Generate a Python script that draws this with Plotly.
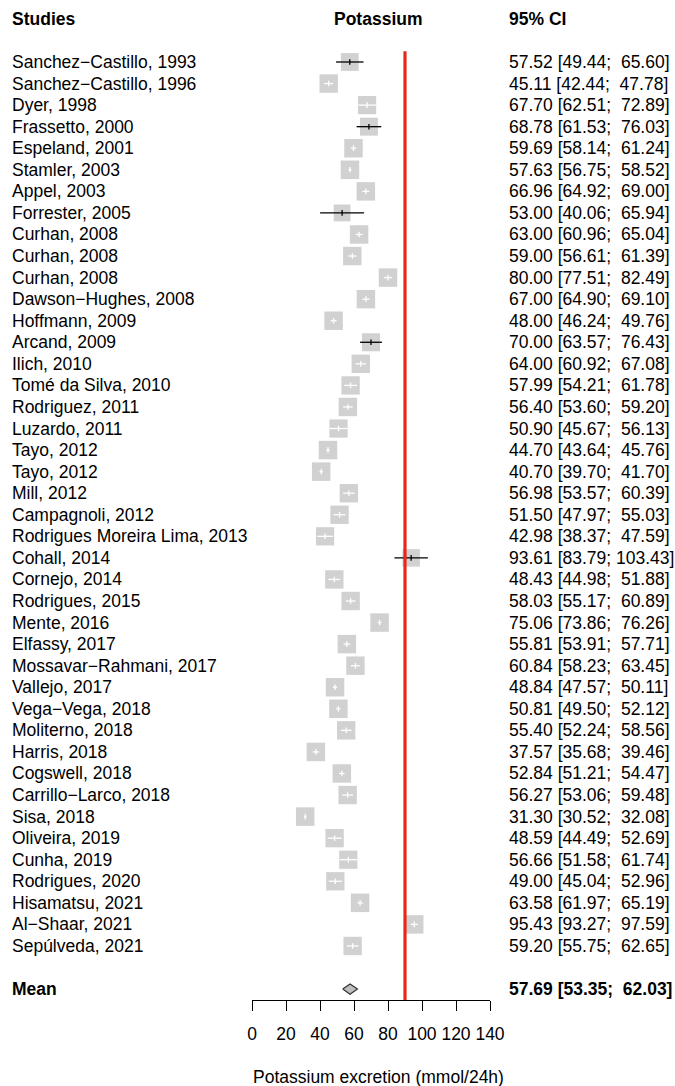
import plotly.graph_objects as go

# ---------------- data ----------------
studies = [
    "Sanchez−Castillo, 1993", "Sanchez−Castillo, 1996", "Dyer, 1998", "Frassetto, 2000",
    "Espeland, 2001", "Stamler, 2003", "Appel, 2003", "Forrester, 2005", "Curhan, 2008",
    "Curhan, 2008", "Curhan, 2008", "Dawson−Hughes, 2008", "Hoffmann, 2009", "Arcand, 2009",
    "Ilich, 2010", "Tomé da Silva, 2010", "Rodriguez, 2011", "Luzardo, 2011", "Tayo, 2012",
    "Tayo, 2012", "Mill, 2012", "Campagnoli, 2012", "Rodrigues Moreira Lima, 2013",
    "Cohall, 2014", "Cornejo, 2014", "Rodrigues, 2015", "Mente, 2016", "Elfassy, 2017",
    "Mossavar−Rahmani, 2017", "Vallejo, 2017", "Vega−Vega, 2018", "Moliterno, 2018",
    "Harris, 2018", "Cogswell, 2018", "Carrillo−Larco, 2018", "Sisa, 2018", "Oliveira, 2019",
    "Cunha, 2019", "Rodrigues, 2020", "Hisamatsu, 2021", "Al−Shaar, 2021", "Sepúlveda, 2021",
]
est = [57.52, 45.11, 67.70, 68.78, 59.69, 57.63, 66.96, 53.00, 63.00, 59.00, 80.00, 67.00,
       48.00, 70.00, 64.00, 57.99, 56.40, 50.90, 44.70, 40.70, 56.98, 51.50, 42.98, 93.61,
       48.43, 58.03, 75.06, 55.81, 60.84, 48.84, 50.81, 55.40, 37.57, 52.84, 56.27, 31.30,
       48.59, 56.66, 49.00, 63.58, 95.43, 59.20]
lower = [49.44, 42.44, 62.51, 61.53, 58.14, 56.75, 64.92, 40.06, 60.96, 56.61, 77.51, 64.90,
         46.24, 63.57, 60.92, 54.21, 53.60, 45.67, 43.64, 39.70, 53.57, 47.97, 38.37, 83.79,
         44.98, 55.17, 73.86, 53.91, 58.23, 47.57, 49.50, 52.24, 35.68, 51.21, 53.06, 30.52,
         44.49, 51.58, 45.04, 61.97, 93.27, 55.75]
upper = [65.60, 47.78, 72.89, 76.03, 61.24, 58.52, 69.00, 65.94, 65.04, 61.39, 82.49, 69.10,
         49.76, 76.43, 67.08, 61.78, 59.20, 56.13, 45.76, 41.70, 60.39, 55.03, 47.59, 103.43,
         51.88, 60.89, 76.26, 57.71, 63.45, 50.11, 52.12, 58.56, 39.46, 54.47, 59.48, 32.08,
         52.69, 61.74, 52.96, 65.19, 97.59, 62.65]
mean_label = "Mean"
mean_est, mean_lower, mean_upper = 57.69, 53.35, 62.03
ref_value = 90
x_ticks = [0, 20, 40, 60, 80, 100, 120, 140]
x_title = "Potassium excretion (mmol/24h)"
headers = ["Studies", "Potassium", "95% CI"]

# ---------------- layout geometry ----------------
W, H = 675, 1086
L, R, T, B = 252, 185, 0, 86
plot_w = W - L - R
plot_h = H - T - B
row_px = 21.56
first_row_px = 62.0
y_top = -first_row_px / row_px
y_bot = (plot_h - first_row_px) / row_px

FONT = "Liberation Sans, Arial, Helvetica, sans-serif"
FS = 17.5
GRAY = "#bebebe"


def px(xp):
    return (xp - L) / plot_w


def py(yp):
    return (plot_h - yp) / plot_h


def ci_text(e, lo, hi):
    hs = f"{hi:.2f}"
    pad = "\u00a0" * (6 - len(hs))
    return f"{e:.2f} [{lo:.2f}; {pad}{hs}]"


n = len(studies)
rows = list(range(n))
mean_row = n + 1
header_row = -2

# square size from random-effects style weights
tau2 = 206.0
ses = [(hi - lo) / (2 * 1.96) for lo, hi in zip(lower, upper)]
wts = [1.0 / (s * s + tau2) for s in ses]
wmax = max(wts)
sizes = [18.5 * (w / wmax) ** 0.5 for w in wts]
px_per_unit = plot_w / (x_ticks[-1] - x_ticks[0])

fig = go.Figure()

# squares
fig.add_trace(go.Scatter(
    x=est, y=rows, mode="markers",
    marker=dict(symbol="square", size=sizes, color=GRAY, line=dict(width=0)),
    hoverinfo="skip", showlegend=False,
))

# CI lines: white if within the square, else black
bx, by, wx, wy = [], [], [], []
tick_h = 0.13
for i, (e, lo, hi, s) in enumerate(zip(est, lower, upper, sizes)):
    inside = (hi - lo) * px_per_unit < s
    xs, ys = (wx, wy) if inside else (bx, by)
    xs += [lo, hi, None, e, e, None]
    ys += [i, i, None, i - tick_h, i + tick_h, None]

fig.add_trace(go.Scatter(x=bx, y=by, mode="lines", line=dict(color="black", width=1.3),
                         hoverinfo="skip", showlegend=False))
fig.add_trace(go.Scatter(x=wx, y=wy, mode="lines", line=dict(color="white", width=1.3),
                         hoverinfo="skip", showlegend=False))

# reference line
fig.add_trace(go.Scatter(x=[ref_value, ref_value], y=[-0.5, y_bot], mode="lines",
                         line=dict(color="#e8261e", width=3.2),
                         hoverinfo="skip", showlegend=False, cliponaxis=False))

# summary diamond
dh = 0.24
fig.add_trace(go.Scatter(
    x=[mean_lower, mean_est, mean_upper, mean_est, mean_lower],
    y=[mean_row, mean_row - dh, mean_row, mean_row + dh, mean_row],
    mode="lines", fill="toself", fillcolor=GRAY,
    line=dict(color="#333333", width=1.2),
    hoverinfo="skip", showlegend=False,
))

ann = []
def add_text(x_px, y, text, anchor="left", bold=False, yref="y"):
    ann.append(dict(
        x=px(x_px), xref="paper", y=y, yref=yref, text=(f"<b>{text}</b>" if bold else text),
        xanchor=anchor, yanchor="middle", showarrow=False,
        font=dict(family=FONT, size=FS, color="black"),
    ))

add_text(10, header_row, headers[0], bold=True)
add_text(378.5, header_row, headers[1], anchor="center", bold=True)
add_text(507, header_row, headers[2], bold=True)
for i, (name, e, lo, hi) in enumerate(zip(studies, est, lower, upper)):
    add_text(10, i, name)
    add_text(507, i, ci_text(e, lo, hi))
add_text(10, mean_row, mean_label, bold=True)
add_text(507, mean_row, ci_text(mean_est, mean_lower, mean_upper), bold=True)
ann.append(dict(
    x=px(378.5), xref="paper", y=py(1076.5), yref="paper",
    text=x_title, xanchor="center", yanchor="middle", showarrow=False,
    font=dict(family=FONT, size=FS, color="black"),
))

fig.update_layout(
    width=W, height=H, margin=dict(l=L, r=R, t=T, b=B, pad=0),
    paper_bgcolor="white", plot_bgcolor="white",
    font=dict(family=FONT, size=FS, color="black"),
    annotations=ann, showlegend=False,
    xaxis=dict(range=[x_ticks[0], x_ticks[-1]], tickvals=x_ticks, ticks="outside", ticklen=10,
               tickwidth=1, tickcolor="black", showline=True, linecolor="black", linewidth=1,
               showgrid=False, zeroline=False, fixedrange=True, ticklabelstandoff=8,
               tickfont=dict(family=FONT, size=FS, color="black")),
    yaxis=dict(range=[y_bot, y_top], visible=False, showgrid=False, zeroline=False,
               fixedrange=True),
)

fig.write_html(
    "out.html",
    config={"displayModeBar": False},
    post_script="document.body.style.margin='0';document.body.style.overflow='hidden';",
)
